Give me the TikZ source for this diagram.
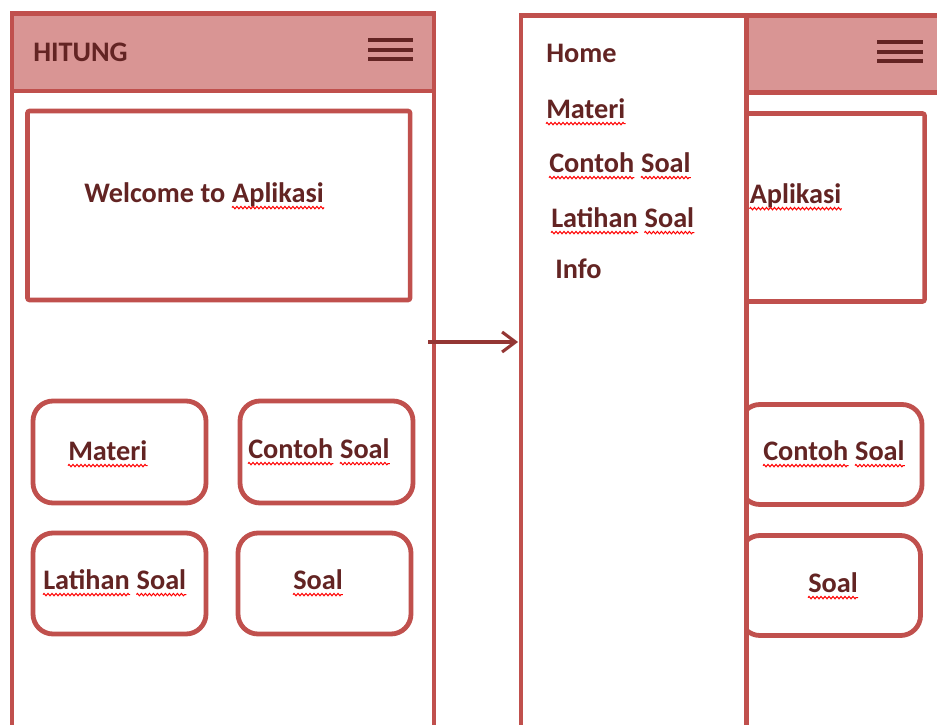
\documentclass[tikz,border=0pt]{standalone}
\usepackage{fontspec}
\setmainfont{Carlito}
\usetikzlibrary{arrows.meta,decorations.pathmorphing}

\definecolor{framec}{HTML}{C0504D}
\definecolor{headfill}{HTML}{D99594}
\definecolor{ink}{HTML}{632423}
\definecolor{arrowc}{HTML}{943634}

\newcommand\labelfont{\fontsize{21.2}{25}\selectfont\bfseries}

% red wavy underline under a word node
\newcommand\squig[1]{%
  \draw[squiggle] ([yshift=-4.2pt]#1.base west) -- ([yshift=-4.2pt]#1.base east);}

\tikzset{
  frameline/.style={draw=framec, line width=3.4pt},
  header/.style={frameline, fill=headfill},
  panel/.style={draw=framec, line width=3.4pt, fill=white, rounded corners=1.5pt, inner sep=0pt},
  btn/.style={draw=framec, line width=3.6pt, fill=white, rounded corners=15pt, inner sep=0pt},
  label/.style={anchor=base west, inner sep=0pt, text=ink, font=\labelfont},
  nextword/.style={label, xshift=4.8pt},
  burger/.style={draw=ink, line width=2.5pt},
  squiggle/.style={draw=red, line width=0.75pt, decorate,
    decoration={zigzag, segment length=3pt, amplitude=0.9pt}},
  nav/.style={draw=arrowc, line width=2.3pt, -{Straight Barb[length=10pt,width=15pt,line width=2.3pt]}}
}

\begin{document}
\begin{tikzpicture}[x=0.75pt,y=-0.75pt]
\useasboundingbox (0,0) rectangle (937,724);
\clip (0,0) rectangle (937,724);

% ---------- home screen ----------
\draw[frameline] (12,770) -- (12,13.5) -- (434,13.5) -- (434,770);
\draw[header] (12,13.5) rectangle (434,91);
\node[label] (title) at (33,61) {HITUNG};
\draw[burger] (368,40) -- (413,40) (368,50) -- (413,50) (368,59) -- (413,59);

\node[panel, minimum width=286.9pt, minimum height=141.75pt] (welcome) at (218.75,205.5) {};
\node[label] (welcometext) at (84,202) {Welcome to};
\node[nextword] (welcomeapl) at (welcometext.base east) {Aplikasi};
\squig{welcomeapl}

\node[btn, minimum width=129.75pt, minimum height=76.5pt] (bmateri) at (119.5,452) {};
\node[btn, minimum width=129.75pt, minimum height=76.5pt] (bcontoh) at (326.5,452) {};
\node[btn, minimum width=129.75pt, minimum height=75.75pt] (blatihan) at (119.5,583.5) {};
\node[btn, minimum width=129.75pt, minimum height=75.75pt] (bsoal) at (324.5,583.5) {};
\node[label] (tmateri) at (68,460) {Materi};
\node[label] (tcontoh) at (248,458) {Contoh};
\node[nextword] (tcontohs) at (tcontoh.base east) {Soal};
\node[label] (tlatihan) at (43,589) {Latihan};
\node[nextword] (tlatihans) at (tlatihan.base east) {Soal};
\node[label] (tsoal) at (293,589) {Soal};
\squig{tmateri}\squig{tcontoh}\squig{tcontohs}
\squig{tlatihan}\squig{tlatihans}\squig{tsoal}

% ---------- screen with the menu open ----------
\draw[frameline] (521,770) -- (521,15.5) -- (960,15.5);
\draw[header] (521,15.5) rectangle (960,92.5);
\draw[burger] (877,42) -- (923,42) (877,52) -- (923,52) (877,61) -- (923,61);

\node[panel, minimum width=286.9pt, minimum height=141pt] (welcome2) at (733.25,207.5) {};
\node[btn, minimum width=136.5pt, minimum height=75pt] (bcontoh2) at (831,454.5) {};
\node[btn, minimum width=135.4pt, minimum height=75pt] (bsoal2) at (830.25,585.5) {};
\node[label] (tapl2) at (749.5,203) {Aplikasi};
\node[label] (tcontoh2) at (763,460) {Contoh};
\node[nextword] (tcontoh2s) at (tcontoh2.base east) {Soal};
\node[label] (tsoal2) at (808,592) {Soal};
\squig{tapl2}\squig{tcontoh2}\squig{tcontoh2s}\squig{tsoal2}

% navigation drawer
\draw[frameline, fill=white] (521,15.5) rectangle (746.5,770);
\node[label] (mhome) at (546,62) {Home};
\node[label] (mmateri) at (546,118) {Materi};
\node[label] (mcontoh) at (549,172) {Contoh};
\node[nextword] (mcontohs) at (mcontoh.base east) {Soal};
\node[label] (mlatihan) at (551,227) {Latihan};
\node[nextword] (mlatihans) at (mlatihan.base east) {Soal};
\node[label] (minfo) at (555,278) {Info};
\squig{mmateri}\squig{mcontoh}\squig{mcontohs}
\squig{mlatihan}\squig{mlatihans}

% transition arrow
\coordinate (navfrom) at (428,342);
\coordinate (navto) at (518,342);
\draw[nav] (navfrom) -- (navto);
\end{tikzpicture}
\end{document}
